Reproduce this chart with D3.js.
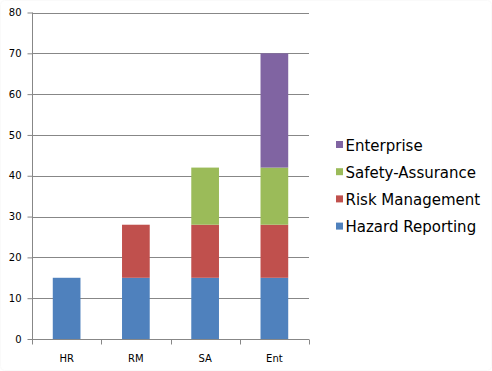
<!DOCTYPE html>
<html><head><meta charset="utf-8">
<script src="https://cdn.jsdelivr.net/npm/d3@7"></script>
<style>body{margin:0;background:#fff}svg{display:block}</style>
</head><body><svg id="c" width="492" height="371"></svg>
<script>
const categories = ["HR", "RM", "SA", "Ent"];
const seriesNames = ["Hazard Reporting", "Risk Management", "Safety-Assurance", "Enterprise"];
const hazardReporting = [15, 15, 15, 15];
const riskManagement = [0, 13, 13, 13];
const safetyAssurance = [0, 0, 14, 14];
const enterprise = [0, 0, 0, 28];
const yTicks = [0, 10, 20, 30, 40, 50, 60, 70, 80];
const colors = ["#4F81BD", "#C0504D", "#9BBB59", "#8064A2"];

(function () {
const svg = d3.select("#c");
const font = "'DejaVu Sans', Verdana, sans-serif";
const pLeft = 32, pRight = 309, pTop = 12.5, pBottom = 339;

svg.append("rect").attr("x",0.5).attr("y",0.5).attr("width",491).attr("height",370)
  .attr("rx",4).attr("fill","none").attr("stroke","#fafafa");

const x = d3.scaleBand().domain(categories).range([pLeft, pRight]).paddingInner(0.6).paddingOuter(0.3);
const xb = d3.scaleBand().domain(categories).range([pLeft, pRight]);
const y = d3.scaleLinear().domain([0, 80]).range([pBottom, pTop]);

// gridlines
svg.append("g").selectAll("line").data(yTicks.filter(d => d > 0)).join("line")
  .attr("x1", pLeft).attr("x2", pRight).attr("y1", d => Math.round(y(d)) + 0.5).attr("y2", d => Math.round(y(d)) + 0.5)
  .attr("stroke", "#878787").attr("stroke-width", 1);

// stacked data
const table = categories.map((c, i) => ({cat: c, s0: hazardReporting[i], s1: riskManagement[i], s2: safetyAssurance[i], s3: enterprise[i]}));
const stack = d3.stack().keys(["s0","s1","s2","s3"])(table);
svg.append("g").selectAll("g").data(stack).join("g").attr("fill", (d, i) => colors[i])
  .selectAll("rect").data(d => d.filter(p => p[1] > p[0])).join("rect")
  .attr("x", d => x(d.data.cat)).attr("width", x.bandwidth())
  .attr("y", d => y(d[1])).attr("height", d => y(d[0]) - y(d[1]));

// y axis
const yAxis = d3.axisLeft(y).tickValues(yTicks).tickSize(5).tickPadding(6);
const gy = svg.append("g").attr("transform", `translate(${pLeft + 0.5},0)`).call(yAxis);
gy.select(".domain").attr("stroke", "#878787").attr("d", `M0,${pTop}V${pBottom + 0.5}`);
gy.selectAll(".tick line").attr("stroke", "#878787");
gy.selectAll(".tick text").attr("font-family", font).attr("font-size", "10px").attr("fill", "#000");

// x axis
const gx = svg.append("g").attr("transform", `translate(0,${pBottom + 0.5})`);
gx.append("line").attr("x1", pLeft).attr("x2", pRight).attr("stroke", "#878787");
const bounds = categories.map(c => xb(c)).concat([pRight]);
gx.selectAll("line.t").data(bounds).join("line").attr("class","t")
  .attr("x1", d => Math.round(d) + 0.5).attr("x2", d => Math.round(d) + 0.5).attr("y1", 0).attr("y2", 5)
  .attr("stroke", "#878787");
gx.selectAll("text").data(categories).join("text")
  .attr("x", d => xb(d) + xb.bandwidth() / 2).attr("y", 22)
  .attr("text-anchor", "middle").attr("font-family", font).attr("font-size", "10px").attr("fill", "#000")
  .text(d => d);

// legend (reverse order)
const legendOrder = [3, 2, 1, 0];
const lg = svg.append("g").selectAll("g").data(legendOrder).join("g")
  .attr("transform", (d, i) => `translate(336,${145 + i * 27.2})`);
lg.append("rect").attr("x", 0).attr("y", -4).attr("width", 7).attr("height", 7).attr("fill", d => colors[d]);
lg.append("text").attr("x", 9.5).attr("y", 5.5).attr("font-family", font).attr("font-size", "15px")
  .attr("fill", "#000").text(d => seriesNames[d]);
})();
</script></body></html>
